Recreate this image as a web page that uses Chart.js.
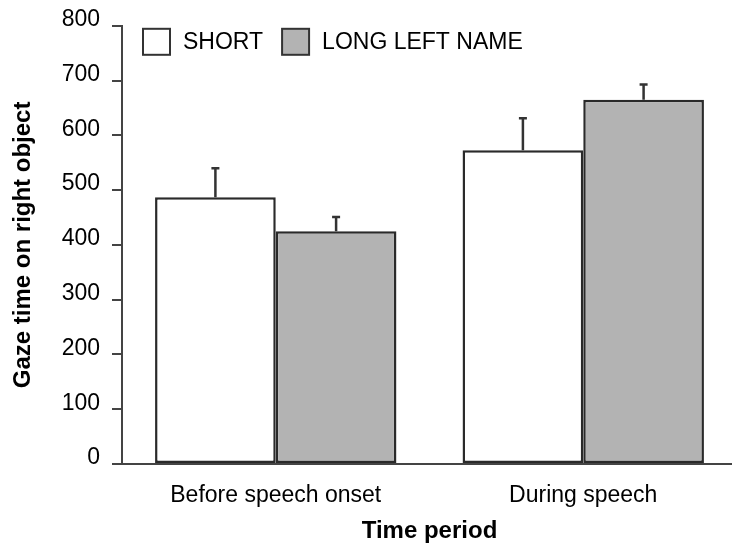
<!DOCTYPE html>
<html>
<head>
<meta charset="utf-8">
<script src="https://cdn.jsdelivr.net/npm/chart.js@4/dist/chart.umd.min.js"></script>
<style>
body{margin:0;overflow:hidden;background:#fff;}
#wrap{width:740px;height:547px;}
</style>
</head>
<body>
<div id="wrap"><canvas id="chart" width="740" height="547"></canvas></div>
<script>
// data
let periods = ["Before speech onset", "During speech"];
let shortVals = [487, 573];
let shortErr = [53, 58];
let longVals = [425, 665];
let longErr = [26, 28];
let yTicks = [0, 100, 200, 300, 400, 500, 600, 700, 800];

let fontFam = "'Liberation Sans', Arial, Helvetica, sans-serif";

// error bars, upward only
const errorBars = {
id: "errorBars",
afterDatasetsDraw(chart){
let ctx = chart.ctx;
let y = chart.scales.y;
chart.data.datasets.forEach((ds, i) => {
let meta = chart.getDatasetMeta(i);
meta.data.forEach((bar, j) => {
let top = y.getPixelForValue(ds.data[j] + ds.err[j]);
ctx.save();
ctx.strokeStyle = "#333";
ctx.lineWidth = 2.5;
ctx.beginPath();
ctx.moveTo(bar.x, bar.y);
ctx.lineTo(bar.x, top);
ctx.moveTo(bar.x - 4, top);
ctx.lineTo(bar.x + 4, top);
ctx.stroke();
ctx.restore();
});
});
}
};

// legend inside plot, top left
const boxLegend = {
id: "boxLegend",
afterDraw(chart){
let ctx = chart.ctx;
let area = chart.chartArea;
let x = area.left + 21;
let yMid = area.top + 16;
ctx.save();
ctx.font = "23px " + fontFam;
ctx.textBaseline = "middle";
chart.data.datasets.forEach(ds => {
ctx.fillStyle = ds.backgroundColor;
ctx.fillRect(x, yMid - 13, 27, 26);
ctx.strokeStyle = "#333";
ctx.lineWidth = 2;
ctx.strokeRect(x, yMid - 13, 27, 26);
ctx.fillStyle = "#000";
ctx.fillText(ds.label, x + 40, yMid + 1);
x += 40 + ctx.measureText(ds.label).width + 19;
});
ctx.restore();
}
};

const ctx = document.getElementById("chart").getContext("2d");

new Chart(ctx, {
type: "bar",
data: {
labels: periods,
datasets: [{
label: "SHORT",
data: shortVals,
err: shortErr,
backgroundColor: "#ffffff",
borderColor: "#2a2a2a",
borderWidth: 2.5,
borderSkipped: false
},{
label: "LONG LEFT NAME",
data: longVals,
err: longErr,
backgroundColor: "#b3b3b3",
borderColor: "#2a2a2a",
borderWidth: 2.5,
borderSkipped: false
}]
},
options: {
responsive: false,
animation: false,
categoryPercentage: 0.785,
barPercentage: 1.0,
layout: { padding: { top: 12, right: 3, left: 0, bottom: 0 } },
plugins: {
legend: { display: false },
tooltip: { enabled: false }
},
scales: {
x: {
grid: { display: false },
border: { display: true, color: "#444", width: 2 },
ticks: { color: "#000", font: { family: fontFam, size: 23 }, padding: 10 },
title: {
display: true,
text: "Time period",
color: "#000",
font: { family: fontFam, size: 24, weight: "bold" },
padding: { top: 0, bottom: 1 }
},
afterFit(scale){ scale.height = 83; }
},
y: {
min: 0,
max: 800,
afterBuildTicks(scale){ scale.ticks = yTicks.map(v => ({ value: v })); },
grid: { display: true, drawOnChartArea: false, drawTicks: true, tickLength: 10, color: "#444", lineWidth: 2 },
border: { display: true, color: "#444", width: 2 },
ticks: { color: "#000", font: { family: fontFam, size: 23 }, padding: 12, labelOffset: -6 },
title: {
display: true,
text: "Gaze time on right object",
color: "#000",
font: { family: fontFam, size: 24, weight: "bold" },
padding: { top: 9, bottom: 0 }
},
afterFit(scale){ scale.width = 122; }
}
}
},
plugins: [errorBars, boxLegend]
});
</script>
</body>
</html>
